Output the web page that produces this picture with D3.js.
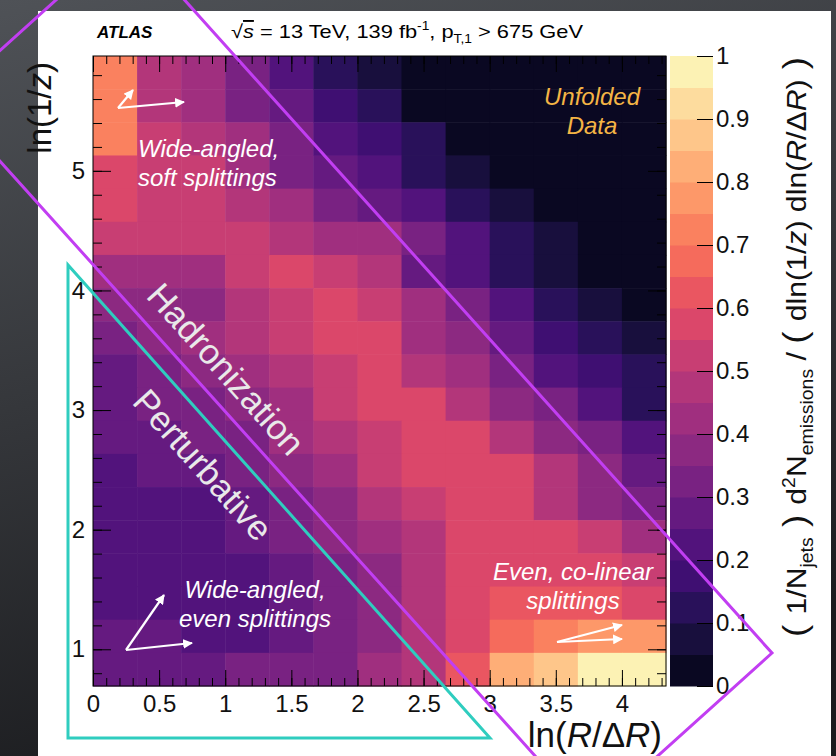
<!DOCTYPE html>
<html>
<head>
<meta charset="utf-8">
<script src="https://cdn.jsdelivr.net/npm/d3@7"></script>
<style>
  html, body { margin: 0; padding: 0; background: #2a2c30; }
  svg { display: block; font-family: "Liberation Sans", Arial, Helvetica, sans-serif; }
</style>
</head>
<body>
<script>
// ln(R/dR) bin edges (13 bins) and ln(1/z) range (19 bins, from ln 2)
var xBinEdges = d3.range(14).map(function (i) { return i / 3; });
var yLow = Math.log(2), yHigh = 5.96, yBinCount = 19;
var yBinEdges = d3.range(yBinCount + 1).map(function (i) { return yLow + i * (yHigh - yLow) / yBinCount; });

// normalised emission density, one row per ln(1/z) bin, top row first
var rowValues = [
  [0.70, 0.45, 0.40, 0.30, 0.20, 0.10, 0.05, 0.02, 0.02, 0.02, 0.02, 0.02, 0.02],
  [0.70, 0.45, 0.42, 0.32, 0.25, 0.15, 0.10, 0.03, 0.02, 0.02, 0.02, 0.02, 0.02],
  [0.70, 0.50, 0.47, 0.40, 0.30, 0.20, 0.15, 0.10, 0.03, 0.02, 0.02, 0.02, 0.02],
  [0.55, 0.50, 0.50, 0.42, 0.33, 0.25, 0.20, 0.10, 0.08, 0.03, 0.02, 0.02, 0.02],
  [0.55, 0.50, 0.50, 0.47, 0.40, 0.30, 0.25, 0.20, 0.10, 0.08, 0.03, 0.02, 0.02],
  [0.50, 0.50, 0.50, 0.50, 0.45, 0.40, 0.40, 0.30, 0.20, 0.12, 0.08, 0.03, 0.02],
  [0.42, 0.42, 0.42, 0.50, 0.57, 0.50, 0.45, 0.28, 0.20, 0.12, 0.08, 0.03, 0.02],
  [0.35, 0.38, 0.38, 0.48, 0.52, 0.56, 0.50, 0.40, 0.30, 0.20, 0.10, 0.05, 0.03],
  [0.33, 0.35, 0.40, 0.45, 0.50, 0.55, 0.57, 0.42, 0.35, 0.25, 0.18, 0.12, 0.05],
  [0.28, 0.32, 0.36, 0.42, 0.47, 0.50, 0.57, 0.47, 0.40, 0.32, 0.22, 0.17, 0.10],
  [0.25, 0.30, 0.33, 0.38, 0.43, 0.50, 0.55, 0.56, 0.45, 0.37, 0.30, 0.22, 0.13],
  [0.25, 0.27, 0.30, 0.33, 0.40, 0.47, 0.52, 0.57, 0.57, 0.48, 0.37, 0.30, 0.20],
  [0.22, 0.25, 0.28, 0.30, 0.37, 0.42, 0.50, 0.56, 0.56, 0.57, 0.45, 0.37, 0.27],
  [0.20, 0.22, 0.22, 0.25, 0.33, 0.38, 0.47, 0.50, 0.55, 0.55, 0.45, 0.38, 0.30],
  [0.20, 0.22, 0.22, 0.25, 0.30, 0.35, 0.40, 0.47, 0.55, 0.57, 0.56, 0.50, 0.42],
  [0.22, 0.22, 0.22, 0.22, 0.25, 0.33, 0.38, 0.45, 0.55, 0.58, 0.59, 0.55, 0.50],
  [0.23, 0.23, 0.23, 0.23, 0.25, 0.30, 0.38, 0.45, 0.55, 0.61, 0.63, 0.62, 0.58],
  [0.27, 0.25, 0.23, 0.23, 0.27, 0.30, 0.38, 0.45, 0.55, 0.68, 0.72, 0.76, 0.78],
  [0.25, 0.25, 0.25, 0.30, 0.30, 0.33, 0.40, 0.45, 0.62, 0.82, 0.88, 0.97, 0.97]
];

var xMajorTicks = [0, 0.5, 1, 1.5, 2, 2.5, 3, 3.5, 4];
var xMinorTicks = d3.range(0, 44).map(function (i) { return i / 10; });
var yMajorTicks = [1, 2, 3, 4, 5];
var yMinorTicks = d3.range(4, 30).map(function (i) { return i / 5; });
var zTicks = [0, 0.1, 0.2, 0.3, 0.4, 0.5, 0.6, 0.7, 0.8, 0.9, 1];
var zLevels = 20;

var W = 836, H = 756;
var plot = { left: 93, right: 666, top: 56, bottom: 686 };

var svg = d3.select('body').append('svg').attr('width', W).attr('height', H);
var defs = svg.append('defs');

// slide background + white panel
var bg = defs.append('linearGradient').attr('id', 'bgGrad')
  .attr('x1', 0).attr('y1', 0).attr('x2', 0.3).attr('y2', 1);
bg.append('stop').attr('offset', 0).attr('stop-color', '#4f5257');
bg.append('stop').attr('offset', 1).attr('stop-color', '#1b1c1f');
svg.append('rect').attr('width', W).attr('height', H).attr('fill', 'url(#bgGrad)');
svg.append('rect').attr('x', 38).attr('y', 11).attr('width', 793).attr('height', H - 11).attr('fill', '#ffffff');

var x = d3.scaleLinear().domain([0, 13 / 3]).range([plot.left, plot.right]);
var y = d3.scaleLinear().domain([yLow, yHigh]).range([plot.bottom, plot.top]);

// 20 discrete magma levels, blacks slightly lifted like the slide
function levelColor(k) {
  return d3.interpolateMagma(0.04 + 0.96 * (k + 0.5) / zLevels);
}
function colorOf(v) {
  return levelColor(Math.min(zLevels - 1, Math.floor(v * zLevels)));
}

// heatmap cells
var cells = [];
rowValues.forEach(function (row, r) {
  var yi = yBinCount - 1 - r;
  row.forEach(function (v, c) {
    cells.push({ x0: xBinEdges[c], x1: xBinEdges[c + 1], y0: yBinEdges[yi], y1: yBinEdges[yi + 1], v: v });
  });
});

svg.append('g').selectAll('rect')
  .data(cells)
  .enter()
  .append('rect')
  .attr('x', function (d) { return x(d.x0); })
  .attr('y', function (d) { return y(d.y1); })
  .attr('width', function (d) { return x(d.x1) - x(d.x0) + 0.5; })
  .attr('height', function (d) { return y(d.y0) - y(d.y1) + 0.5; })
  .attr('fill', function (d) { return colorOf(d.v); });

// axes (ROOT style, ticks inward, mirrored)
var fmt = function (d) { return String(d); };
function styleAxis(g) {
  g.select('.domain').remove();
  g.selectAll('line').attr('stroke', '#000').attr('stroke-width', 1);
  g.selectAll('text').attr('font-size', 24).attr('fill', '#111');
}
svg.append('g').attr('transform', 'translate(0,' + plot.bottom + ')')
  .call(d3.axisBottom(x).tickValues(xMinorTicks).tickSize(-8).tickFormat(''))
  .call(styleAxis);
svg.append('g').attr('transform', 'translate(0,' + plot.bottom + ')')
  .call(d3.axisBottom(x).tickValues(xMajorTicks).tickSize(-16).tickPadding(7).tickFormat(fmt))
  .call(styleAxis)
  .selectAll('text').attr('dy', '0.8em');
svg.append('g').attr('transform', 'translate(0,' + plot.top + ')')
  .call(d3.axisTop(x).tickValues(xMinorTicks).tickSize(-8).tickFormat(''))
  .call(styleAxis);
svg.append('g').attr('transform', 'translate(0,' + plot.top + ')')
  .call(d3.axisTop(x).tickValues(xMajorTicks).tickSize(-16).tickFormat(''))
  .call(styleAxis);
svg.append('g').attr('transform', 'translate(' + plot.left + ',0)')
  .call(d3.axisLeft(y).tickValues(yMinorTicks).tickSize(-9).tickFormat(''))
  .call(styleAxis);
svg.append('g').attr('transform', 'translate(' + plot.left + ',0)')
  .call(d3.axisLeft(y).tickValues(yMajorTicks).tickSize(-18).tickPadding(8).tickFormat(fmt))
  .call(styleAxis);
svg.append('g').attr('transform', 'translate(' + plot.right + ',0)')
  .call(d3.axisRight(y).tickValues(yMinorTicks).tickSize(-9).tickFormat(''))
  .call(styleAxis);
svg.append('g').attr('transform', 'translate(' + plot.right + ',0)')
  .call(d3.axisRight(y).tickValues(yMajorTicks).tickSize(-18).tickFormat(''))
  .call(styleAxis);
svg.append('rect')
  .attr('x', plot.left).attr('y', plot.top)
  .attr('width', plot.right - plot.left).attr('height', plot.bottom - plot.top)
  .attr('fill', 'none').attr('stroke', '#000').attr('stroke-width', 1);

// colour bar
var cb = { left: 670, right: 713 };
var z = d3.scaleLinear().domain([0, 1]).range([plot.bottom, plot.top]);
svg.append('g').selectAll('rect')
  .data(d3.range(zLevels))
  .enter()
  .append('rect')
  .attr('x', cb.left)
  .attr('y', function (k) { return z((k + 1) / zLevels); })
  .attr('width', cb.right - cb.left)
  .attr('height', function (k) { return z(k / zLevels) - z((k + 1) / zLevels) + 0.5; })
  .attr('fill', function (k) { return levelColor(k); });
svg.append('g').attr('transform', 'translate(' + cb.right + ',0)')
  .call(d3.axisRight(z).tickValues(zTicks).tickSize(-16).tickPadding(4).tickFormat(fmt))
  .call(styleAxis)
  .selectAll('text').attr('x', 3);

// axis titles
svg.append('text')
  .attr('x', 662).attr('y', 747).attr('text-anchor', 'end')
  .attr('font-size', 35).attr('fill', '#111')
  .call(function (t) {
    t.append('tspan').text('ln(');
    t.append('tspan').attr('font-style', 'italic').text('R');
    t.append('tspan').text('/Δ');
    t.append('tspan').attr('font-style', 'italic').text('R');
    t.append('tspan').text(')');
  });
svg.append('text')
  .attr('transform', 'translate(51,62) rotate(-90)').attr('text-anchor', 'end')
  .attr('font-size', 33).attr('fill', '#111')
  .call(function (t) {
    t.append('tspan').text('ln(1/');
    t.append('tspan').attr('font-style', 'italic').text('z');
    t.append('tspan').text(')');
  });

// z-axis title with sub/superscripts
var zParts = [
  { t: '( ', s: 34 }, { t: '1/N' }, { t: 'jets', s: 18, dy: 7 }, { t: ' ) ', s: 34, dy: -7 },
  { t: 'd' }, { t: '2', s: 18, dy: -11 }, { t: 'N', dy: 11 }, { t: 'emissions', s: 18, dy: 7 },
  { t: ' / ', dy: -7 }, { t: '( ', s: 34 }, { t: 'dln(1/' }, { t: 'z', i: true }, { t: ') dln(' },
  { t: 'R', i: true }, { t: '/Δ' }, { t: 'R', i: true }, { t: ')' }, { t: ' )', s: 34 }
];
var zTitle = svg.append('text')
  .attr('transform', 'translate(806,347) rotate(-90)')
  .attr('text-anchor', 'middle').attr('font-size', 28).attr('fill', '#111')
  .attr('textLength', 580).attr('lengthAdjust', 'spacingAndGlyphs');
zParts.forEach(function (p) {
  var ts = zTitle.append('tspan').text(p.t);
  if (p.s) ts.attr('font-size', p.s);
  if (p.dy) ts.attr('dy', p.dy);
  if (p.i) ts.attr('font-style', 'italic');
});

// header
svg.append('text').attr('x', 97).attr('y', 38)
  .attr('font-size', 17).attr('font-weight', 'bold').attr('font-style', 'italic').attr('fill', '#000')
  .text('ATLAS');
svg.append('text').attr('x', 231).attr('y', 38).attr('font-size', 19).attr('fill', '#000')
  .attr('textLength', 352).attr('lengthAdjust', 'spacingAndGlyphs')
  .call(function (t) {
    t.append('tspan').text('√');
    t.append('tspan').attr('font-style', 'italic').attr('text-decoration', 'overline').text('s');
    t.append('tspan').text(' = 13 TeV, 139 fb');
    t.append('tspan').attr('font-size', 12).attr('dy', -8).text('-1');
    t.append('tspan').attr('dy', 8).text(', p');
    t.append('tspan').attr('font-size', 12).attr('dy', 5).text('T,1');
    t.append('tspan').attr('dy', -5).text(' > 675 GeV');
  });

// annotations
var annoColor = '#ffffff';
function lines(xp, yp, anchor, txt, size, color) {
  txt.forEach(function (s, i) {
    svg.append('text').attr('x', xp).attr('y', yp + i * 29)
      .attr('text-anchor', anchor).attr('font-size', size).attr('font-style', 'italic')
      .attr('fill', color).text(s);
  });
}
lines(592, 105, 'middle', ['Unfolded', 'Data'], 24, '#f4b445');
lines(138, 157, 'start', ['Wide-angled,', 'soft splittings'], 24, annoColor);
lines(255, 598, 'middle', ['Wide-angled,', 'even splittings'], 24, annoColor);
lines(573, 580, 'middle', ['Even, co-linear', 'splittings'], 24, annoColor);

defs.append('marker').attr('id', 'arr')
  .attr('viewBox', '0 0 10 10').attr('refX', 9).attr('refY', 5)
  .attr('markerWidth', 4.5).attr('markerHeight', 4.5).attr('orient', 'auto')
  .append('path').attr('d', 'M0,0 L10,5 L0,10 Z').attr('fill', '#fff');
var arrows = [
  [118, 108, 133, 90], [118, 108, 184, 102],
  [126, 650, 164, 595], [126, 650, 192, 643],
  [557, 642, 622, 625], [557, 642, 622, 639]
];
svg.append('g').selectAll('line').data(arrows).enter().append('line')
  .attr('x1', function (d) { return d[0]; }).attr('y1', function (d) { return d[1]; })
  .attr('x2', function (d) { return d[2]; }).attr('y2', function (d) { return d[3]; })
  .attr('stroke', '#fff').attr('stroke-width', 2.2).attr('marker-end', 'url(#arr)');

// region overlays drawn on the slide
var angle = 48.2;
svg.append('text').attr('transform', 'translate(226,369) rotate(' + angle + ')')
  .attr('text-anchor', 'middle').attr('dy', '0.35em').attr('font-size', 35).attr('fill', '#e9e9e9')
  .text('Hadronization');
svg.append('text').attr('transform', 'translate(203,465) rotate(' + angle + ')')
  .attr('text-anchor', 'middle').attr('dy', '0.35em').attr('font-size', 35).attr('fill', '#e9e9e9')
  .text('Perturbative');

svg.append('polygon')
  .attr('points', '127,-64 772,653 590,817 -55,100')
  .attr('fill', 'none').attr('stroke', '#c23ef2').attr('stroke-width', 3);
svg.append('polygon')
  .attr('points', '68,265 68,738 490,738')
  .attr('fill', 'none').attr('stroke', '#2fcdbf').attr('stroke-width', 3);
</script>
</body>
</html>
